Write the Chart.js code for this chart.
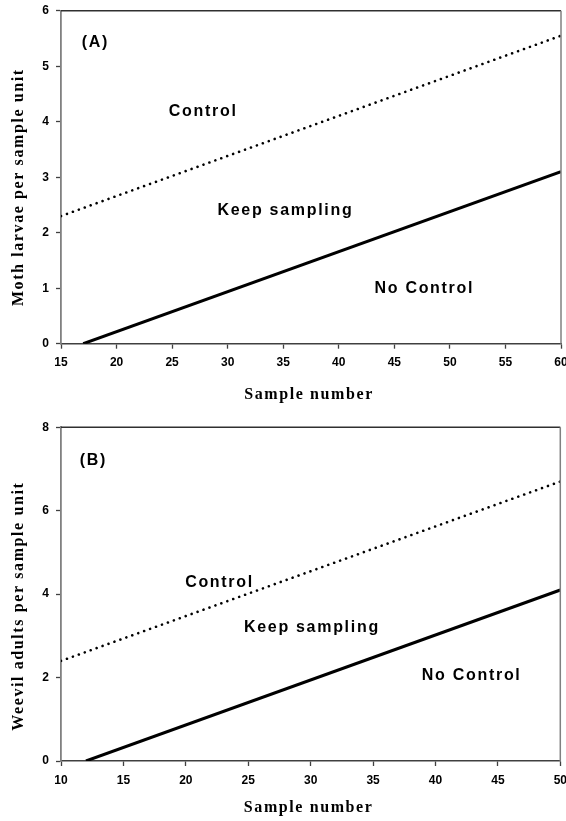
<!DOCTYPE html>
<html>
<head>
<meta charset="utf-8">
<script src="https://cdn.jsdelivr.net/npm/chart.js@4.4.1/dist/chart.umd.min.js"></script>
<style>
html,body{margin:0;padding:0;background:#fff;}
#wrap{position:relative;width:566px;height:821px;overflow:hidden;}
#ca{position:absolute;left:0;top:0;}
#cb{position:absolute;left:0;top:410px;}
</style>
</head>
<body>
<div id="wrap">
<canvas id="ca" width="566" height="410"></canvas>
<canvas id="cb" width="566" height="411"></canvas>
</div>
<script>
// ---------- Panel A: moth larvae ----------
const aXTicks = [15, 20, 25, 30, 35, 40, 45, 50, 55, 60];
const aYTicks = [0, 1, 2, 3, 4, 5, 6];
const aControlX = [15, 60];        // upper (control) decision line
const aControlY = [2.3, 5.55];
const aNoControlX = [17, 60];      // lower (no control) decision line
const aNoControlY = [0, 3.1];
const aXTitle = 'Sample number';
const aYTitle = 'Moth larvae per sample unit';
const aPanelLabel = '(A)';
const aRegionLabels = ['Control', 'Keep sampling', 'No Control'];

// ---------- Panel B: weevil adults ----------
const bXTicks = [10, 15, 20, 25, 30, 35, 40, 45, 50];
const bYTicks = [0, 2, 4, 6, 8];
const bControlX = [10, 50];
const bControlY = [2.4, 6.7];
const bNoControlX = [12, 50];
const bNoControlY = [0, 4.1];
const bXTitle = 'Sample number';
const bYTitle = 'Weevil adults per sample unit';
const bPanelLabel = '(B)';
const bRegionLabels = ['Control', 'Keep sampling', 'No Control'];

const SANS = '"Liberation Sans", Arial, sans-serif';
const SERIF = '"Liberation Serif", "Times New Roman", serif';

function pts(xs, ys) { return xs.map((x, i) => ({ x: x, y: ys[i] })); }

const framePlugin = {
  id: 'frame',
  afterDatasetsDraw(chart) {
    const a = chart.chartArea, ctx = chart.ctx;
    ctx.save();
    ctx.lineWidth = 1.5;
    ctx.strokeStyle = '#303030';
    ctx.beginPath(); ctx.moveTo(a.left, a.top); ctx.lineTo(a.right, a.top); ctx.stroke();
    ctx.strokeStyle = '#808080';
    ctx.beginPath(); ctx.moveTo(a.right, a.top); ctx.lineTo(a.right, a.bottom); ctx.stroke();
    ctx.restore();
  }
};

const textPlugin = {
  id: 'texts',
  afterDraw(chart, args, o) {
    const ctx = chart.ctx, a = chart.chartArea;
    const sx = chart.scales.x, sy = chart.scales.y;
    ctx.save();
    ctx.fillStyle = '#000';
    ctx.textAlign = 'center';
    ctx.textBaseline = 'middle';
    ctx.font = 'bold 16px ' + SANS;
    ctx.letterSpacing = '1.7px';
    o.labels.forEach(l => {
      ctx.fillText(l.text, sx.getPixelForValue(l.x), sy.getPixelForValue(l.y));
    });
    // axis titles
    ctx.font = 'bold 16px ' + SERIF;
    ctx.letterSpacing = '1.6px';
    ctx.textBaseline = 'alphabetic';
    ctx.fillText(o.xTitle, (a.left + a.right) / 2 - 2, a.bottom + o.xTitleOffset);
    ctx.translate(o.yTitleX, (a.top + a.bottom) / 2 + o.yTitleShift);
    ctx.rotate(-Math.PI / 2);
    ctx.fillText(o.yTitle, 0, 0);
    ctx.restore();
  }
};

function makePanel(canvas, p) {
  const tickFont = { family: SANS, size: 12, weight: 'bold' };
  return new Chart(canvas, {
    type: 'scatter',
    data: {
      datasets: [
        { label: 'Control line', data: pts(p.cX, p.cY), showLine: true,
          borderColor: '#000', borderWidth: 2.6, borderDash: [0.01, 6.3],
          borderCapStyle: 'round', pointRadius: 0, fill: false, tension: 0 },
        { label: 'No control line', data: pts(p.nX, p.nY), showLine: true,
          borderColor: '#000', borderWidth: 3, pointRadius: 0, fill: false, tension: 0 }
      ]
    },
    options: {
      responsive: false, animation: false, devicePixelRatio: 1,
      layout: { padding: { left: 0, right: p.padRight, top: p.padTop, bottom: 0 } },
      plugins: {
        legend: { display: false }, tooltip: { enabled: false },
        texts: p.texts
      },
      scales: {
        x: {
          type: 'linear', min: p.xTicks[0], max: p.xTicks[p.xTicks.length - 1],
          afterBuildTicks: s => { s.ticks = p.xTicks.map(v => ({ value: v })); },
          afterFit: s => { s.height = p.xAxisH; s.paddingLeft = 0; s.paddingRight = 0; },
          grid: { display: true, drawOnChartArea: false, drawTicks: true, tickLength: 5, tickColor: '#404040', tickWidth: 1.3 },
          border: { display: true, color: '#404040', width: 1.5 },
          ticks: { color: '#000', font: tickFont, padding: 7, maxRotation: 0, autoSkip: false }
        },
        y: {
          type: 'linear', min: p.yTicks[0], max: p.yTicks[p.yTicks.length - 1],
          afterBuildTicks: s => { s.ticks = p.yTicks.map(v => ({ value: v })); },
          afterFit: s => { s.width = 61; s.paddingTop = 0; s.paddingBottom = 0; },
          grid: { display: true, drawOnChartArea: false, drawTicks: true, tickLength: 5, tickColor: '#404040', tickWidth: 1.3 },
          border: { display: true, color: '#808080', width: 1.8 },
          ticks: { color: '#000', font: tickFont, padding: 7, autoSkip: false }
        }
      }
    },
    plugins: [framePlugin, textPlugin]
  });
}

makePanel(document.getElementById('ca'), {
  xTicks: aXTicks, yTicks: aYTicks,
  cX: aControlX, cY: aControlY, nX: aNoControlX, nY: aNoControlY,
  padTop: 10.7, padRight: 5, xAxisH: 66.3,
  texts: {
    labels: [
      { text: aPanelLabel, x: 18.1, y: 5.42 },
      { text: aRegionLabels[0], x: 27.8, y: 4.19 },
      { text: aRegionLabels[1], x: 35.2, y: 2.4 },
      { text: aRegionLabels[2], x: 47.7, y: 0.99 }
    ],
    xTitle: aXTitle, xTitleOffset: 55, yTitle: aYTitle, yTitleX: 23, yTitleShift: 10
  }
});

makePanel(document.getElementById('cb'), {
  xTicks: bXTicks, yTicks: bYTicks,
  cX: bControlX, cY: bControlY, nX: bNoControlX, nY: bNoControlY,
  padTop: 17.3, padRight: 5.7, xAxisH: 60,
  texts: {
    labels: [
      { text: bPanelLabel, x: 12.6, y: 7.19 },
      { text: bRegionLabels[0], x: 22.7, y: 4.27 },
      { text: bRegionLabels[1], x: 30.1, y: 3.21 },
      { text: bRegionLabels[2], x: 42.9, y: 2.04 }
    ],
    xTitle: bXTitle, xTitleOffset: 51, yTitle: bYTitle, yTitleX: 23, yTitleShift: 12
  }
});
</script>
</body>
</html>
